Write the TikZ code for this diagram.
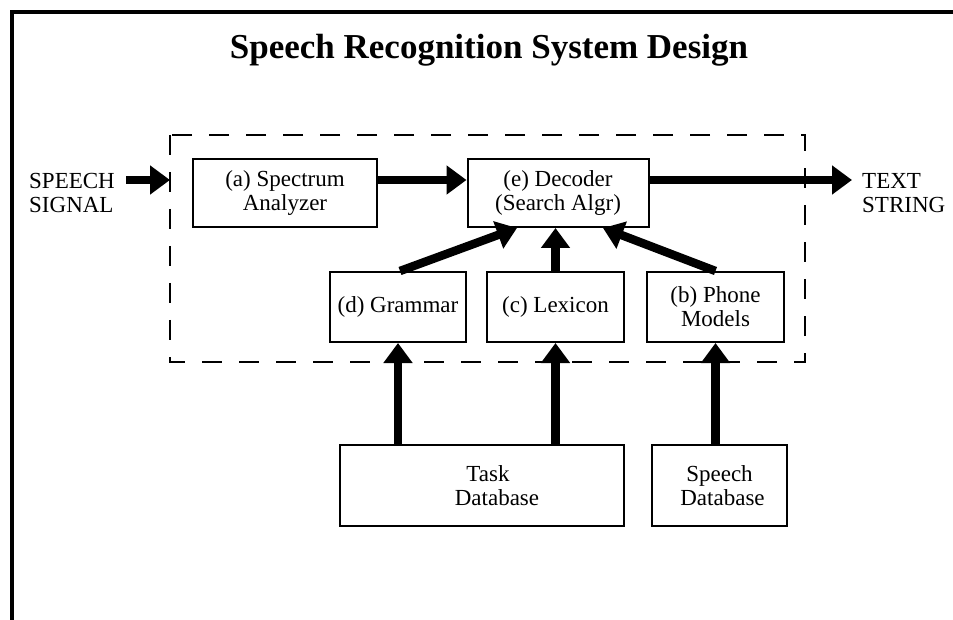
\documentclass[tikz,border=0pt]{standalone}
\usepackage{fontspec}
\setmainfont{Liberation Serif}
\usetikzlibrary{arrows.meta}
\tikzset{
  blk/.style={draw, line width=2pt, rectangle, inner sep=0pt, align=center,
    font=\fontsize{23}{24}\selectfont},
  lbl/.style={inner sep=0pt, font=\fontsize{23}{24}\selectfont},
  fat/.style={line width=8.5pt, -{Triangle[length=20pt,width=28pt]}},
}
\begin{document}
\begin{tikzpicture}[x=1pt,y=-1pt]
\useasboundingbox (0,0) rectangle (953,620);
% frame
\draw[line width=4pt] (12,620) -- (12,12) -- (953,12);
% title
\node (title) at (489,50) {\fontsize{35}{38}\selectfont\bfseries Speech Recognition System Design};
% dashed boundary
\draw[line width=2pt, dash pattern=on 20pt off 17pt] (170,135) rectangle (805,362);
% blocks
\node[blk, minimum width=184pt, minimum height=68pt] (spec) at (285,193) {(a) Spectrum\\Analyzer};
\node[blk, minimum width=181pt, minimum height=68pt] (dec) at (558,193) {(e) Decoder\\(Search Algr)};
\node[blk, minimum width=136pt, minimum height=70pt] (gram) at (398,307) {(d) Grammar};
\node[blk, minimum width=137pt, minimum height=70pt] (lex) at (555.5,307) {(c) Lexicon};
\node[blk, minimum width=137pt, minimum height=70pt] (phone) at (715.5,307) {(b) Phone\\Models};
\node[blk, minimum width=284pt, minimum height=81pt] (task) at (482,485.5) {\hspace*{12pt}Task\\\hspace*{30pt}Database};
\node[blk, minimum width=135pt, minimum height=81pt] (sdb) at (719.5,485.5) {Speech\\\hspace*{6pt}Database};
% outside labels
\node[lbl, anchor=west, align=left] (sig) at (29,193) {SPEECH\\SIGNAL};
\node[lbl, anchor=west, align=left] (txt) at (862,193) {TEXT\\STRING};
\coordinate (sigin) at (126,180);
\coordinate (sigout) at (170,180);
\coordinate (txtin) at (852,180);
% connectors
\draw[fat] (sigin) -- (sigout);
\draw[fat] ([yshift=13pt]spec.east) -- ([yshift=13pt]dec.west);
\draw[fat] ([yshift=13pt]dec.east) -- (txtin);
\draw[fat] ([xshift=2pt]gram.north) -- ([xshift=-41pt]dec.south);
\draw[fat] (lex.north) -- (lex.north |- dec.south);
\draw[fat] (phone.north) -- ([xshift=45pt]dec.south);
\draw[fat] (gram.south |- task.north) -- (gram.south);
\draw[fat] (lex.south |- task.north) -- (lex.south);
\draw[fat] (phone.south |- sdb.north) -- (phone.south);
\end{tikzpicture}
\end{document}
